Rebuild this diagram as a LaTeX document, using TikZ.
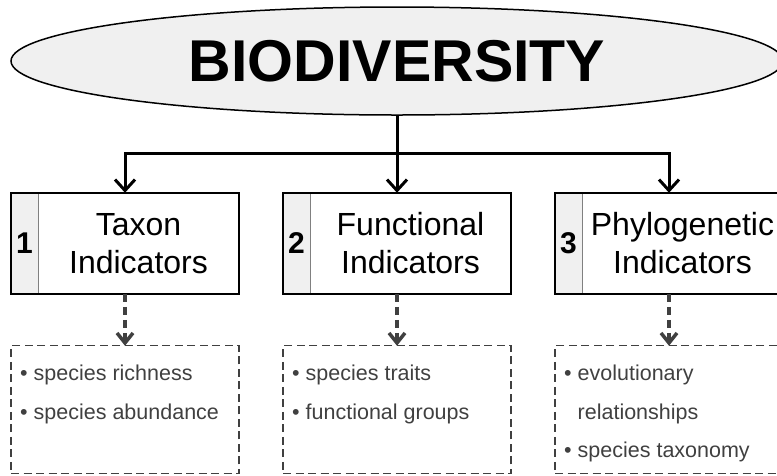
\documentclass[tikz,border=0pt]{standalone}
\usepackage{fontspec}
\setmainfont{Liberation Sans}
\usepackage{tikz}
\usetikzlibrary{shapes.geometric, arrows.meta, positioning, fit, calc}
\definecolor{cellgray}{HTML}{F0F0F0}
\definecolor{textgray}{HTML}{404040}
\tikzstyle{topic} = [ellipse, draw=black, line width=1.5pt, fill=cellgray, minimum width=772pt, minimum height=108pt, inner sep=0pt, font=\fontsize{59}{70}\selectfont\bfseries]
\tikzstyle{textcell} = [rectangle, minimum width=201pt, minimum height=101pt, inner sep=0pt, outer sep=0pt, align=center, font=\fontsize{32}{38}\selectfont]
\tikzstyle{numcell} = [rectangle, draw=gray, line width=1pt, fill=cellgray, minimum width=27pt, minimum height=101pt, inner sep=0pt, outer sep=0pt, font=\fontsize{30}{36}\selectfont\bfseries]
\tikzstyle{boxframe} = [rectangle, draw=black, line width=2pt, inner sep=0pt, outer sep=0pt]
\tikzstyle{listbox} = [rectangle, draw=textgray, line width=1.3pt, dash pattern=on 8pt off 4.5pt, minimum width=228pt, minimum height=128pt, inner sep=0pt, outer sep=0pt]
\tikzstyle{listtext} = [inner sep=0pt, align=left, text=textgray, font=\fontsize{21.5}{38.5}\selectfont]
\tikzstyle{arrow} = [line width=3pt, -{Straight Barb[length=11pt, width=20pt]}]
\tikzstyle{dasharrow} = [line width=3.5pt, draw=textgray, dash pattern=on 8pt off 5pt, -{Straight Barb[length=10pt, width=16pt]}]

\begin{document}
\begin{tikzpicture}
    \useasboundingbox (0,0) rectangle (777pt,-475pt);

    % Main topic
    \node (bio) [topic] at (397pt,-61pt) {BIODIVERSITY};

    % Indicator boxes
    \node (txt2) [textcell, below=77pt of bio, xshift=13.5pt] {Functional\\Indicators};
    \node (num2) [numcell, left=0pt of txt2] {2};
    \node (txt1) [textcell, left=44pt of num2] {Taxon\\Indicators};
    \node (num1) [numcell, left=0pt of txt1] {1};
    \node (num3) [numcell, right=44pt of txt2] {3};
    \node (txt3) [textcell, right=0pt of num3] {Phylogenetic\\Indicators};

    \node (box1) [boxframe, fit=(num1)(txt1)] {};
    \node (box2) [boxframe, fit=(num2)(txt2)] {};
    \node (box3) [boxframe, fit=(num3)(txt3)] {};

    % Lists
    \node (list1) [listbox, below=52pt of box1] {};
    \node (list2) [listbox, below=52pt of box2] {};
    \node (list3) [listbox, below=52pt of box3] {};

    \node (items1) [listtext, below right=19pt and 9pt of list1.north west] {• species richness\\• species abundance};
    \node (items2) [listtext, below right=19pt and 9pt of list2.north west] {• species traits\\• functional groups};
    \node (items3) [listtext, below right=19pt and 9pt of list3.north west] {• evolutionary\\\phantom{•\ }relationships\\• species taxonomy};

    % Connectors
    \coordinate (hub) at ($(bio.south)+(0,-38pt)$);
    \draw [arrow] (bio.south) -- (box2.north);
    \draw [arrow] (hub) -| (box1.north);
    \draw [arrow] (hub) -| (box3.north);
    \draw [dasharrow] (box1) -- (list1);
    \draw [dasharrow] (box2) -- (list2);
    \draw [dasharrow] (box3) -- (list3);
\end{tikzpicture}
\end{document}
